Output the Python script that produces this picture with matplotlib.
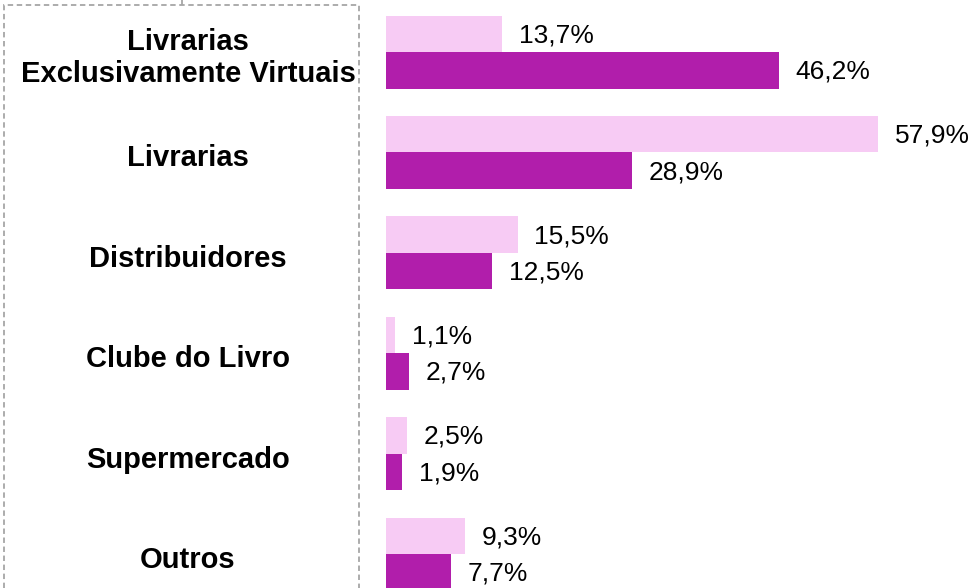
import matplotlib.pyplot as plt
from matplotlib.patches import Rectangle
from matplotlib.lines import Line2D
import matplotlib.transforms as mtransforms

plt.rcParams['font.family'] = ['Liberation Sans', 'DejaVu Sans']

# sales channels and shares (%) for the two series
categories = ["Livrarias\nExclusivamente Virtuais", "Livrarias", "Distribuidores",
              "Clube do Livro", "Supermercado", "Outros"]
light_vals = [13.7, 57.9, 15.5, 1.1, 2.5, 9.3]
dark_vals = [46.2, 28.9, 12.5, 2.7, 1.9, 7.7]

light_color = "#F7CBF4"
dark_color = "#B11EAB"

W, H = 970, 588
fig = plt.figure(figsize=(W / 100, H / 100), dpi=100)
ax = fig.add_axes([386 / W, 0, 1 - 386 / W, 1])

step = 100.4          # px between groups
bar_h = 36.5 / step   # bar height in data units
px_per_pct = 8.5
ax.set_xlim(0, (W - 386) / px_per_pct)
ax.set_ylim((H - 52) / step, -52 / step)

ys = list(range(len(categories)))
ax.barh([y - bar_h / 2 for y in ys], light_vals, height=bar_h, color=light_color)
ax.barh([y + bar_h / 2 for y in ys], dark_vals, height=bar_h, color=dark_color)

gap = 16.5 / px_per_pct
for y, lv, dv in zip(ys, light_vals, dark_vals):
    ax.text(lv + gap, y - bar_h / 2 + 0.015, f"{lv:.1f}%".replace(".", ","),
            va="center", ha="left", fontsize=19)
    ax.text(dv + gap, y + bar_h / 2 + 0.015, f"{dv:.1f}%".replace(".", ","),
            va="center", ha="left", fontsize=19)

ax.axis("off")

# category labels, centred inside the dashed box
trans = mtransforms.blended_transform_factory(fig.transFigure, ax.transData)
for y, name in zip(ys, categories):
    ax.text(188 / W, y + 0.06, name, transform=trans, ha="center", va="center",
            fontsize=21, fontweight="bold", linespacing=1.2, clip_on=False)

box = Rectangle((4 / W, -0.05), 355 / W, (H - 5) / H + 0.05,
                transform=fig.transFigure, fill=False, edgecolor="#A6A6A6",
                linestyle=(0, (3, 2)), linewidth=1.3)
fig.add_artist(box)
fig.add_artist(Line2D([182 / W, 182 / W], [1, (H - 4) / H], transform=fig.transFigure,
                      color="#A6A6A6", linewidth=1.3))

fig.savefig("out.png", dpi=100)
